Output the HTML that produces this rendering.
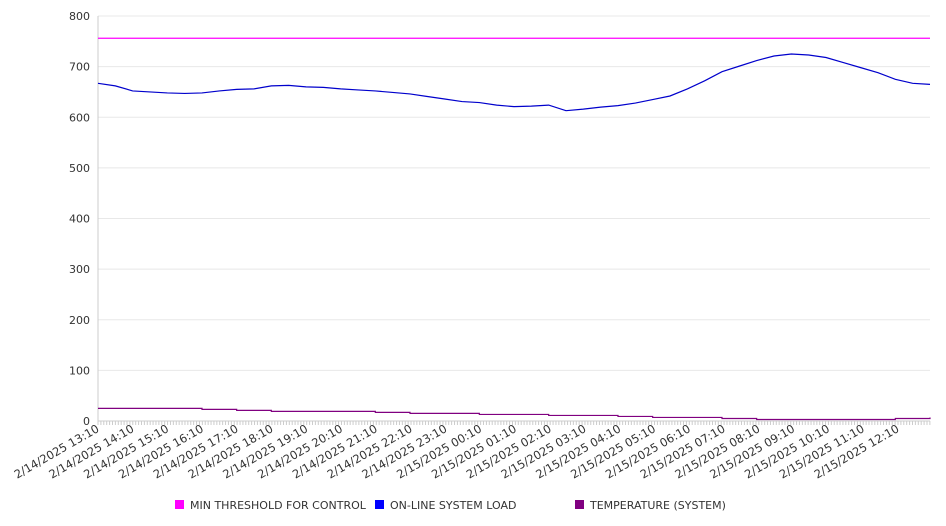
<!DOCTYPE html>
<html><head><meta charset="utf-8"><style>
body{margin:0;background:#fff;}
svg{display:block;font-family:"DejaVu Sans","Liberation Sans",sans-serif;}
</style></head><body>
<svg id="chart" width="946" height="526" viewBox="0 0 946 526">
<g id="grid"></g>
<g id="yaxis"></g>
<g id="xaxis"></g>
<g id="series"></g>
<g font-size="11" fill="#333">
<g><rect x="175" y="500" width="9" height="9" fill="#ff00ff"/><text x="190" y="509">MIN THRESHOLD FOR CONTROL</text></g>
<g><rect x="375" y="500" width="9" height="9" fill="#0000ff"/><text x="390" y="509">ON-LINE SYSTEM LOAD</text></g>
<g><rect x="575" y="500" width="9" height="9" fill="#800080"/><text x="590" y="509">TEMPERATURE (SYSTEM)</text></g>
</g>
</svg>
<script>
const tickLabels=["2/14/2025 13:10","2/14/2025 14:10","2/14/2025 15:10","2/14/2025 16:10","2/14/2025 17:10","2/14/2025 18:10","2/14/2025 19:10","2/14/2025 20:10","2/14/2025 21:10","2/14/2025 22:10","2/14/2025 23:10","2/15/2025 00:10","2/15/2025 01:10","2/15/2025 02:10","2/15/2025 03:10","2/15/2025 04:10","2/15/2025 05:10","2/15/2025 06:10","2/15/2025 07:10","2/15/2025 08:10","2/15/2025 09:10","2/15/2025 10:10","2/15/2025 11:10","2/15/2025 12:10"];
const yTicks=[0,100,200,300,400,500,600,700,800];
const loadValues=[667,662,652,650,648,647,648,652,655,656,662,663,660,659,656,654,652,649,646,641,636,631,629,624,621,622,624,613,616,620,623,628,635,642,656,672,690,701,712,721,725,723,718,708,698,688,675,667,665];
const thresholdValues=[756,756];
const tempValues=[25,25,25,23,21,19,19,19,17,15,15,13,13,11,11,9,7,7,5,3,3,3,3,5,7];
const X0=98,X1=930,Y0=421,Y1=16,HOURS=23.92;
const xs=h=>X0+(X1-X0)*h/HOURS;
const ys=v=>Y0-(Y0-Y1)*v/800;
const NS="http://www.w3.org/2000/svg";
function mk(tag,parent,attrs){const e=document.createElementNS(NS,tag);for(const k in attrs)e.setAttribute(k,attrs[k]);parent.appendChild(e);return e;}
const grid=document.getElementById('grid'),ya=document.getElementById('yaxis'),xa=document.getElementById('xaxis'),se=document.getElementById('series');
yTicks.forEach(v=>{
 const l=mk('line',grid,{x1:X0,x2:X1,y1:ys(v),y2:ys(v),stroke:'#e8e8e8'});
 
 
 const t=mk('text',ya,{x:90,y:ys(v)+4,'text-anchor':'end','font-size':'11',fill:'#333'});
 t.textContent=v;
 
 
});
mk('line',ya,{x1:X0,x2:X0,y1:Y1,y2:Y0,stroke:'#ccc'});
mk('line',xa,{x1:X0,x2:X1,y1:Y0,y2:Y0,stroke:'#ccc'});
for(let m=0;m<=HOURS*60;m+=5){const x=xs(m/60);mk('line',xa,{x1:x,x2:x,y1:Y0,y2:Y0+4,stroke:'#ccc'});}
tickLabels.forEach((s,i)=>{
 const x=xs(i)+2;
 const t=mk('text',xa,{x:x,y:Y0+10,'text-anchor':'end','font-size':'11.5',fill:'#333',transform:`rotate(-30 ${x} ${Y0+10})`});
 t.textContent=s;
 
 
});
function path(vals,step,color,name){
 let d='';const n=vals.length-1;
 vals.forEach((v,i)=>{const x=xs(HOURS*i/n),y=ys(v);
  if(i===0)d+=`M${x},${y}`;else if(step){d+=`H${x}V${y}`;}else d+=`L${x},${y}`;});
 if(step)d+=`H${X1}`;
 const p=mk('path',se,{d:d,fill:'none',stroke:color,'stroke-width':'1.2'});
 
 
}
path(thresholdValues,false,'#ff00ff','threshold-line');
path(loadValues,false,'#0000cc','load-line');
path(tempValues,true,'#800080','temperature-line');
</script>
</body></html>
